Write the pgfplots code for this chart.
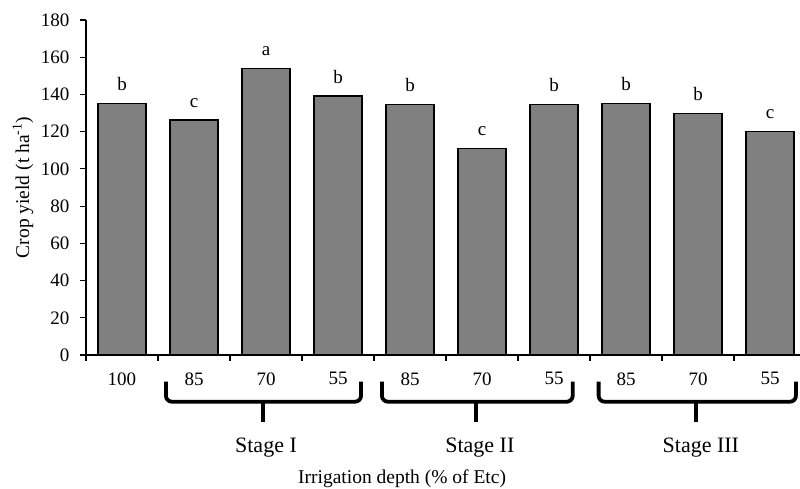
\documentclass[border=0pt]{standalone}
\usepackage{fontspec}
\setmainfont{Liberation Serif}
\usepackage{pgfplots}
\usepackage{pgfplotstable}
\pgfplotsset{compat=1.18}
\definecolor{barfill}{RGB}{128,128,128}
\pgfplotstableread{
x y lab
0 135.0 b
1 126.3 c
2 154.0 a
3 139.2 b
4 134.8 b
5 111.0 c
6 134.8 b
7 135.0 b
8 129.8 b
9 120.2 c
}\datatable
\begin{document}
\begin{tikzpicture}
\useasboundingbox (-86pt,-133pt) rectangle (714pt,355pt);
\begin{axis}[
  at={(0,0)}, anchor=south west,
  scale only axis, width=714pt, height=335pt,
  xmin=-0.5, xmax=9.4167, ymin=0, ymax=180,
  axis x line=bottom, axis y line=left,
  axis line style={-, line width=1.2pt},
  ytick={0,20,...,180},
  xtick={0,...,9},
  xticklabels={100,85,70,55,85,70,55,85,70,55},
  minor xtick={-0.5,0.5,...,8.5},
  major x tick style={draw=none},
  minor x tick style={line width=1.2pt, black},
  major y tick style={line width=1.2pt, black},
  tick align=outside, major tick length=6pt, minor tick length=6pt,
  tick label style={font=\fontsize{19}{22}\selectfont},
  yticklabel style={xshift=-7pt},
  xticklabel style={yshift=-8pt},
  /pgf/number format/assume math mode=true,
  clip=false,
  nodes near coords, point meta=explicit symbolic,
  every node near coord/.append style={font=\fontsize{19}{22}\selectfont, anchor=south, inner sep=0pt, yshift=12pt, black},
]
\addplot[ybar, bar width=48pt, fill=barfill, draw=black, line width=1.2pt] table[x=x,y=y,meta=lab] {\datatable};

\draw[line width=3.8pt, rounded corners=6pt] (axis cs:0.61,-14.35) -- (axis cs:0.61,-25.1) -- (axis cs:3.32,-25.1) -- (axis cs:3.32,-14.35);
\draw[line width=3.8pt] (axis cs:1.96,-25.1) -- (axis cs:1.96,-35.8);
\draw[line width=3.8pt, rounded corners=6pt] (axis cs:3.61,-14.35) -- (axis cs:3.61,-25.1) -- (axis cs:6.26,-25.1) -- (axis cs:6.26,-14.35);
\draw[line width=3.8pt] (axis cs:4.92,-25.1) -- (axis cs:4.92,-35.8);
\draw[line width=3.8pt, rounded corners=6pt] (axis cs:6.62,-14.35) -- (axis cs:6.62,-25.1) -- (axis cs:9.36,-25.1) -- (axis cs:9.36,-14.35);
\draw[line width=3.8pt] (axis cs:7.97,-25.1) -- (axis cs:7.97,-35.8);

\node[anchor=base, font=\fontsize{22}{25}\selectfont] at (axis cs:2.0,-52.3) {Stage I};
\node[anchor=base, font=\fontsize{22}{25}\selectfont] at (axis cs:4.97,-52.3) {Stage II};
\node[anchor=base, font=\fontsize{22}{25}\selectfont] at (axis cs:8.04,-52.3) {Stage III};
\node[anchor=base, font=\fontsize{19.5}{22}\selectfont] at (axis cs:3.89,-69.3) {Irrigation depth (\% of Etc)};
\node[rotate=90, font=\fontsize{19.5}{22}\selectfont] at (axis cs:-1.375,90) {Crop yield (t ha\textsuperscript{-1})};
\end{axis}
\end{tikzpicture}
\end{document}
